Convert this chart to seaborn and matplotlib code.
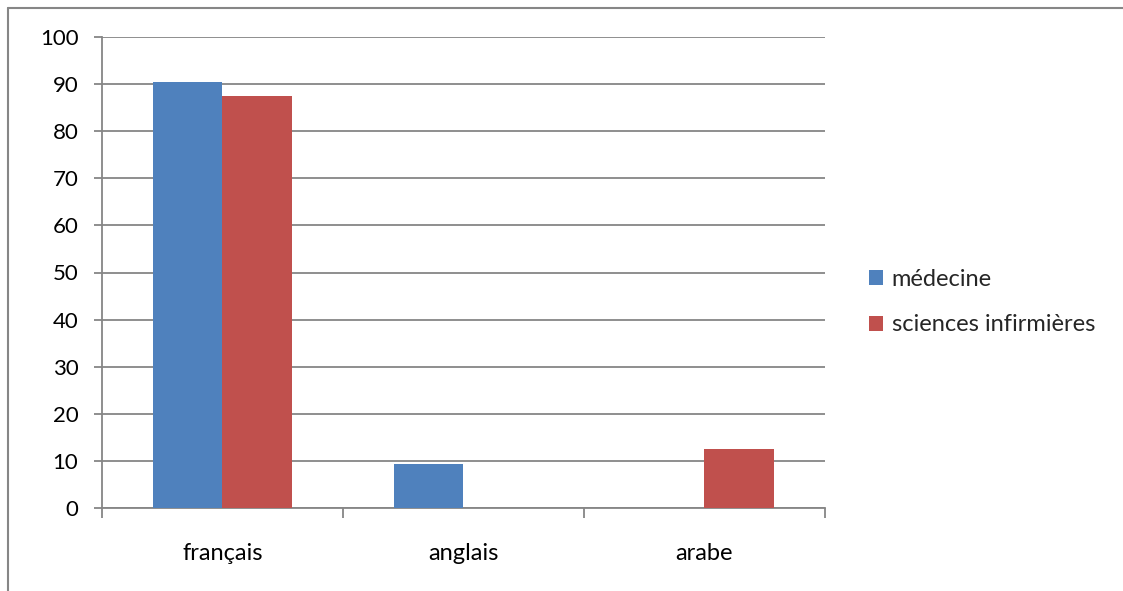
import matplotlib
matplotlib.use("Agg")
import matplotlib.pyplot as plt
import seaborn as sns
import pandas as pd
from matplotlib.lines import Line2D
from matplotlib.patches import Patch

categories = ["français", "anglais", "arabe"]
series_names = ["médecine", "sciences infirmières"]
medecine = [90.5, 9.4, 0]
sciences = [87.5, 0, 12.5]
yticks = [0, 10, 20, 30, 40, 50, 60, 70, 80, 90, 100]

colors = ["#4F81BD", "#C0504D"]

df = pd.DataFrame({
    "langue": categories * 2,
    "filière": [series_names[0]] * 3 + [series_names[1]] * 3,
    "valeur": medecine + sciences,
})

sns.set_theme(style="white")
plt.rcParams["font.family"] = ["Lato", "DejaVu Sans"]

fig = plt.figure(figsize=(11.23, 5.91), dpi=100)
ax = fig.add_axes([102 / 1123, 1 - 508 / 591, 723 / 1123, 471 / 591])

sns.barplot(data=df, x="langue", y="valeur", hue="filière", order=categories,
            hue_order=series_names, palette=colors, width=0.573, ax=ax,
            saturation=1, legend=False, linewidth=0, errorbar=None)

gray = "#868686"
ax.set_xlim(-0.5, 2.5)
ax.set_ylim(0, 100)
ax.set_yticks(yticks)
ax.set_yticklabels([str(v) for v in yticks])
ax.yaxis.grid(True, color=gray, linewidth=1.3)
ax.set_axisbelow(True)
for b in ax.patches:
    b.set_zorder(3)
for s in ["top", "right"]:
    ax.spines[s].set_visible(False)
for s in ["left", "bottom"]:
    ax.spines[s].set_color(gray)
    ax.spines[s].set_linewidth(1.3)
ax.set_xlabel("")
ax.set_ylabel("")
ax.tick_params(axis="y", which="both", left=True, length=6, width=1.3, color=gray,
               labelsize=16, pad=11, labelcolor="black")
ax.set_xticks([0, 1, 2])
ax.set_xticklabels(categories)
ax.set_xticks([-0.5, 0.5, 1.5, 2.5], minor=True)
ax.tick_params(axis="x", which="major", length=0, labelsize=17, pad=25, labelcolor="black")
ax.tick_params(axis="x", which="minor", bottom=True, length=7, width=1.3, color=gray)

handles = [Patch(facecolor=c, edgecolor="none") for c in colors]
fig.legend(handles, series_names, loc="center left",
           bbox_to_anchor=(848 / 1123, 1 - 302 / 591), frameon=False,
           fontsize=17, handlelength=0.6, handleheight=0.6, handletextpad=0.35,
           labelspacing=1.05)

# outer chart frame
fig.add_artist(Line2D([8 / 1123, 1.0], [1 - 8 / 591, 1 - 8 / 591], color=gray,
                      linewidth=1.5, transform=fig.transFigure))
fig.add_artist(Line2D([8 / 1123, 8 / 1123], [0, 1 - 8 / 591], color=gray,
                      linewidth=1.5, transform=fig.transFigure))

fig.savefig("out.png", dpi=100)
